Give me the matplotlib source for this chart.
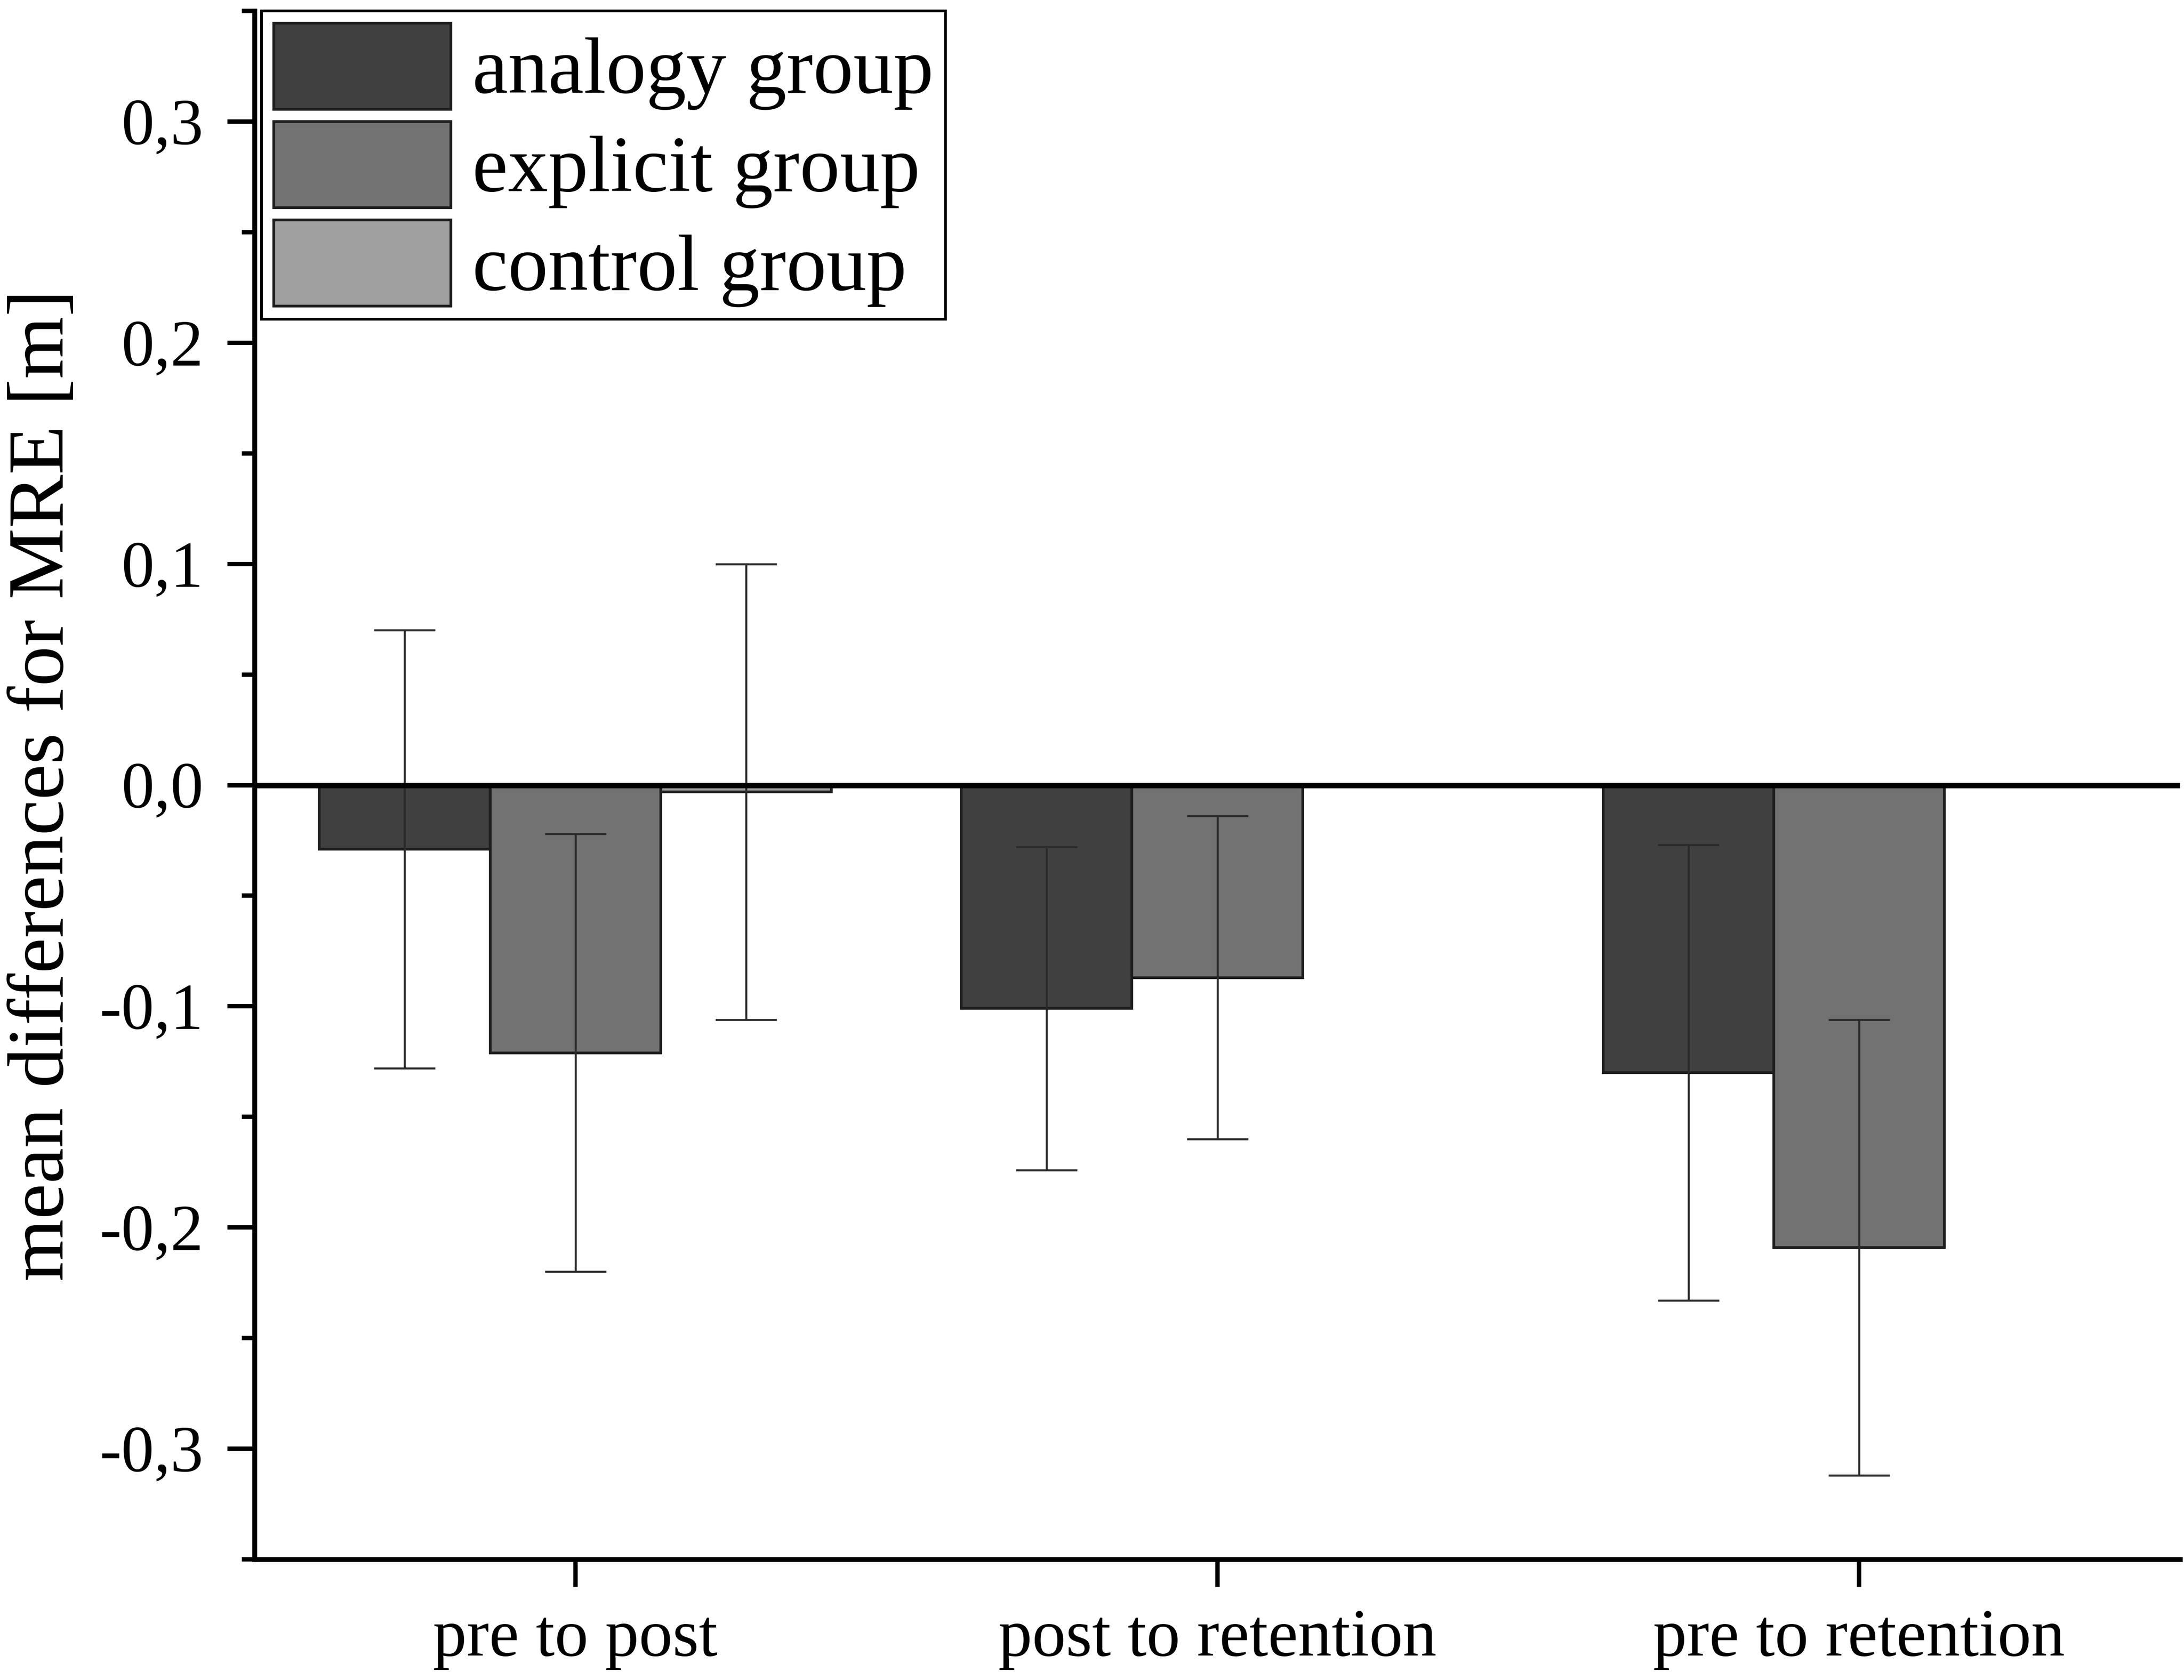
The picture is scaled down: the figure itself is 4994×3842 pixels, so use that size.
import numpy as np
import matplotlib
matplotlib.use("Agg")
import matplotlib.pyplot as plt
from matplotlib.ticker import MultipleLocator, FixedLocator, FuncFormatter

# ---- data ----
categories = ["pre to post", "post to retention", "pre to retention"]
groups = ["analogy group", "explicit group", "control group"]
analogy_mean = [-0.029, -0.101, -0.130]
analogy_err = [0.099, 0.073, 0.103]
explicit_mean = [-0.121, -0.087, -0.209]
explicit_err = [0.099, 0.073, 0.103]
control_mean = [-0.003, np.nan, np.nan]
control_err = [0.103, np.nan, np.nan]
y_ticks = [-0.3, -0.2, -0.1, 0.0, 0.1, 0.2, 0.3]

colors = ["#404040", "#727272", "#a0a0a0"]

plt.rcParams["font.family"] = ["Liberation Serif", "DejaVu Serif"]

W, H, DPI = 4994, 3842, 300
fig = plt.figure(figsize=(W / DPI, H / DPI), dpi=DPI)
ax = fig.add_axes([582 / W, 1 - 3566 / H, (4985 - 582) / W, (3566 - 25) / H])

x = np.arange(len(categories))
width = 0.266
offsets = [-width, 0.0, width]
series = [(analogy_mean, analogy_err), (explicit_mean, explicit_err), (control_mean, control_err)]

for i, (m, e) in enumerate(series):
    m = np.array(m, dtype=float)
    e = np.array(e, dtype=float)
    ok = ~np.isnan(m)
    ax.bar(x[ok] + offsets[i], m[ok], width=width, color=colors[i],
           edgecolor="#1e1e1e", linewidth=1.5, label=groups[i], zorder=2)
    ax.errorbar(x[ok] + offsets[i], m[ok], yerr=e[ok], fmt="none",
                ecolor="#2a2a2a", elinewidth=1.1, capsize=16.8, capthick=1.1, zorder=3)

ax.axhline(0, color="black", linewidth=3.0, zorder=4)

ax.set_xlim(-0.5, 2.5)
ax.set_ylim(-0.35, 0.35)

ax.spines["top"].set_visible(False)
ax.spines["right"].set_visible(False)
ax.spines["left"].set_linewidth(2.7)
ax.spines["bottom"].set_linewidth(2.7)

ax.set_xticks(x)
ax.set_xticklabels(categories, fontsize=37)
ax.yaxis.set_major_locator(FixedLocator(y_ticks))
ax.yaxis.set_minor_locator(MultipleLocator(0.05))
ax.yaxis.set_major_formatter(FuncFormatter(lambda v, p: f"{v:.1f}".replace(".", ",").replace("−", "-")))
ax.tick_params(axis="y", which="major", direction="out", length=15, width=2.4, labelsize=36, pad=13)
ax.tick_params(axis="y", which="minor", direction="out", length=7, width=2.4)
ax.tick_params(axis="x", which="major", direction="out", length=15, width=2.4, pad=12)

ax.set_ylabel("mean differences for MRE [m]", fontsize=44)
ax.yaxis.set_label_coords(-0.0906, 0.5)

leg = ax.legend(loc="upper left", bbox_to_anchor=(598 / W, 1 - 25 / H),
                bbox_transform=fig.transFigure, fontsize=44, frameon=True,
                fancybox=False, framealpha=1, edgecolor="black",
                borderpad=0.15, handlelength=2.21, handleheight=1.277,
                handletextpad=0.27, labelspacing=0.14, borderaxespad=0)
leg.get_frame().set_linewidth(1.5)
for p in leg.get_patches():
    p.set_edgecolor("#1e1e1e")

fig.savefig("out.png", dpi=DPI)
